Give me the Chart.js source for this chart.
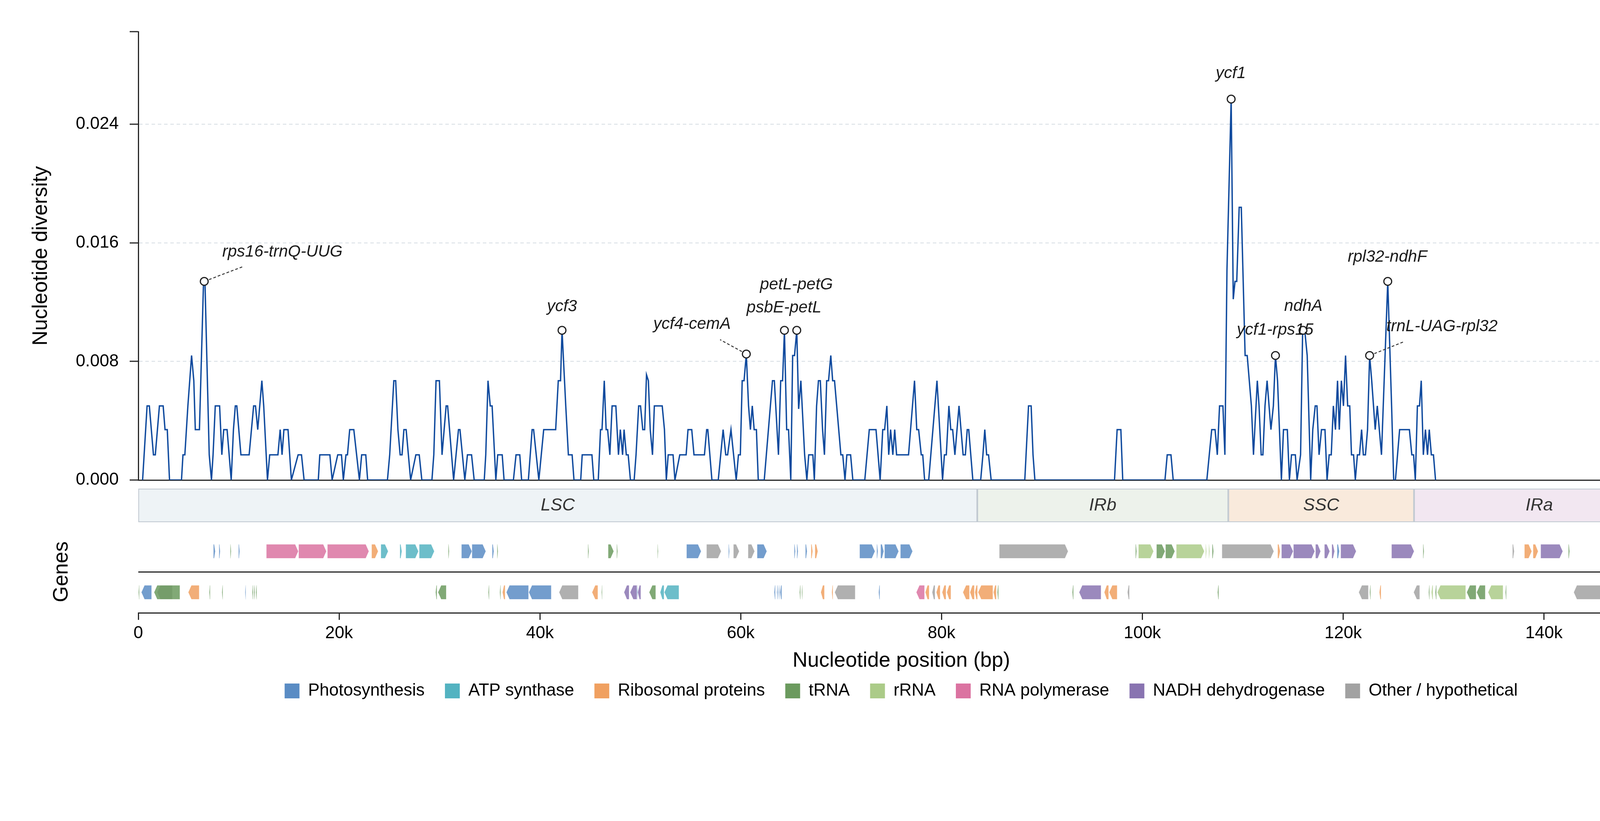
<!DOCTYPE html>
<html>
<head>
<meta charset="utf-8">
<title>Nucleotide diversity</title>
<script src="https://cdn.jsdelivr.net/npm/chart.js@4.4.1/dist/chart.umd.min.js"></script>
<style>
  html, body { margin: 0; padding: 0; overflow: hidden; background: #fff; }
  body { position: relative; width: 4322px; height: 2102px; }
  canvas { position: absolute; left: 0; }
</style>
</head>
<body>
<canvas id="band" width="4322" height="110" style="top:1240px"></canvas>
<canvas id="genes" width="4322" height="803" style="top:1299px"></canvas>
<canvas id="diversity" width="4322" height="1285" style="top:0"></canvas>
<script>
// sliding window nucleotide diversity, [position bp, pi]
const piLSC = [
  [430,0],[877,.005],[1101,.005],[1510,.0017],[1696,.0017],[2106,.005],[2478,.005],[2664,.0034],[2888,.0034],[3111,0],
  [4303,0],[4451,.0017],[4638,.0017],[4940,.005],[5308,.0084],[5531,.0067],[5680,.0034],[6090,.0034],[6500,.0134],[6640,.0134],
  [7066,.0017],[7289,0],[7448,.0017],[7668,.005],[8100,.005],[8323,.0017],[8510,.0034],[8845,.0034],[9254,0],[9478,.0034],
  [9664,.005],[9813,.005],[10222,.0017],[11041,.0017],[11488,.005],[11674,.005],[11898,.0034],[12308,.0067],[12493,.005],[12866,0],
  [13089,.0017],[13908,.0017],[14132,.0034],[14318,.0017],[14504,.0034],[14914,.0034],[15248,0],[15919,.0017],[16254,.0017],[16514,0],
  [17929,0],[18078,.0017],[19083,.0017],[19306,0],[19865,.0017],[20237,.0017],[20423,0],[20684,.0017],[20833,.0017],[21056,.0034],
  [21466,.0034],[22024,0],[22248,.0017],[22657,.0017],[22843,0],[24816,0],[25040,.0017],[25450,.0067],[25636,.0067],[25859,.0034],
  [26082,.0017],[26269,.0017],[26455,.0034],[26678,.0034],[27125,0],[27646,.0017],[27981,.0017],[28241,0],[29246,0],[29433,.0017],
  [29656,.0067],[29991,.0067],[30252,.0017],[30661,.005],[30810,.005],[31406,0],[31890,.0034],[32039,.0034],[32523,0],[32783,.0017],
  [33193,.0017],[33453,0],[34458,0],[34607,.0017],[34831,.0067],[35054,.005],[35240,.005],[35612,0],[35799,.0017],[36245,.0017],
  [36431,0],[37362,0],[37623,.0017],[37995,.0017],[38181,0],[38852,0],[39224,.0034],[39373,.0034],[39894,0],[40378,.0034],
  [41570,.0034],[41830,.0067],[42054,.0067],[42203,.0101],[42575,.005],[42836,.0017],[43208,.0017],[43394,0],[44064,0],[44213,.0017],
  [45181,.0017],[45367,0],[45814,0],[46037,.0034],[46186,.0034],[46410,.0067],[46596,.0034],[46745,.0034],[46968,.0017],[47191,.005],
  [47564,.005],[47824,.0017],[48010,.0034],[48234,.0017],[48383,.0034],[48606,.0017],[48792,.0017],[49016,0],[49388,0],[49574,.0017],
  [49835,.005],[50021,.005],[50244,.0034],[50431,.0034],[50617,.0071],[50803,.0067],[50989,.0034],[51213,.0017],[51399,.005],[52181,.005],
  [52404,.0034],[52590,0],[52777,.0017],[53261,.0017],[53447,0],[53931,.0017],[54564,.0017],[54750,.0034],[55122,.0034],[55346,.0017],
  [56387,.0017],[56610,.0034],[56722,.0034],[57131,0],[57764,0],[58248,.0034],[58509,.0017],[58695,.0017],[59030,.0034],[59551,0],
  [59775,.0017],[59961,.0017],[60147,.0067],[60333,.0067],[60557,.0085],[60780,.005],[60966,.0034],[61152,.005],[61338,.0034],[61562,.0034],
  [61748,0],[62344,0],[63163,.0067],[63349,.0067],[63758,.0017],[63982,.0067],[64168,.0067],[64354,.0101],[64577,.0034],[64764,.0034],
  [64987,0],[65173,.0084],[65359,.0084],[65583,.0101],[65769,.0048],[65992,.0067],[66365,.0017],[66588,0],[66774,.0017],[67184,.0017],
  [67333,0],[67556,.005],[67742,.0067],[67928,.0067],[68152,.0034],[68338,.0017],[68561,.0067],[68747,.0067],[68971,.0084],[69157,.0067],
  [69343,.0067],[69976,.0017],[70162,.0017],[70385,0],[70571,.0017],[70944,.0017],[71167,0],[72358,0],[72805,.0034],[73475,.0034],
  [73885,0],[74145,.0034],[74332,.0034],[74555,.005],[74741,.0017],[74927,.0034],[75151,.0017],[75337,.0034],[75523,.0017],[76714,.0017],
  [77310,.0067],[77533,.0034],[77719,.0034],[77980,.0017],[78129,.0017],[78315,0],[78725,0],[79544,.0067],[80102,0],[80288,.0017],
  [80475,.0017],[80735,.005],[80921,.0034],[81108,.0034],[81331,.0017],[81741,.005],[82150,.0017],[82373,.0017],[82559,.0034],[82708,.0034],
  [83118,0]
];
const piIRb = [
  [83900,0],[84123,.0017],[84309,.0034],[84495,.0017],[84682,.0017],[84942,0],[88293,0],[88665,.005],[88926,.005],[89112,.0017],
  [89298,0],[97228,0],[97489,.0034],[97861,.0034],[98047,0],[102254,0],[102478,.0017],[102850,.0017],[103073,0],[106424,0],
  [106908,.0034],[107243,.0034],[107466,.0017],[107690,.005],[108025,.005],[108221,.0017],[108429,.0142]
];
const piSSC = [
  [108846,.0257],[109055,.0122],[109228,.0134],[109402,.0134],[109645,.0184],[109854,.0184],[110236,.0084],[110444,.0084],[110861,.005],[111069,.0017],
  [111451,.0067],[111625,.005],[111834,.0017],[112007,.0017],[112216,.005],[112424,.0067],[112806,.0034],[113049,.005],[113258,.0084],[113466,.0067],
  [113849,0],[114057,.0034],[114439,.0034],[114647,0],[114855,.0017],[115238,.0017],[115411,0],[115759,.0017],[115967,.0101],[116175,.0101],
  [116419,.0084],[116766,0],[116974,.0034],[117218,.005],[117391,.005],[117600,.0017],[117843,.0034],[118190,.0034],[118398,0],[118607,.0017],
  [118815,.0017],[119024,.005],[119232,.0034],[119440,.0067],[119614,.0034],[119823,.0067],[120031,.005],[120239,.0084],[120448,.005],[120656,.005],
  [120830,.0017],[121038,.0017],[121212,0],[121420,.0017],[121629,.0017],[121837,.0034],[122011,.0017],[122219,.0017],[122428,.0034],[122636,.0084],
  [122845,.0067],[123192,.0034],[123400,.005],[123817,.0017],[124442,.0134],[124825,.005],[125033,0],[125207,0],[125624,.0034],[126596,.0034],
  [126839,.0017],[127013,.0017]
];
const piIRa = [
  [127187,0],[127395,.005],[127603,.005],[127777,.0067],[127985,.0017],[128194,.0034],[128402,.0017],[128576,.0034],[128784,.0017],[128993,.0017],
  [129201,0]
];

// highlighted windows
const peakNames = ['rps16-trnQ-UUG','ycf3','ycf4-cemA','psbE-petL','petL-petG','ycf1','ycf1-rps15','ndhA','trnL-UAG-rpl32','rpl32-ndhF'];
const peakPos   = [6570, 42203, 60557, 64354, 65583, 108846, 113258, 116000, 122636, 124442];
const peakPi    = [.0134, .0101, .0085, .0101, .0101, .0257, .0084, .0101, .0084, .0134];

const yTicks = [0, 0.008, 0.016, 0.024];
const yMax = 0.03025;
const xTicks = [0, 20000, 40000, 60000, 80000, 100000, 120000, 140000, 152000];
const genomeLength = 152000;

const regionNames = ['LSC', 'IRb', 'SSC', 'IRa'];
const regionStart = [0, 83560, 108560, 127060];
const regionEnd   = [83560, 108560, 127060, 152000];

const categories = ['Photosynthesis','ATP synthase','Ribosomal proteins','tRNA','rRNA','RNA polymerase','NADH dehydrogenase','Other / hypothetical'];
const catKeys = ['P','A','R','T','RR','Pol','N','O'];

// [start, end, category]
const genesPlus = [
  [7479,7673,'P'],[8038,8160,'P'],[9157,9254,'T'],[9983,10105,'P'],
  [12755,15941,'Pol'],[15965,18737,'Pol'],[18834,22968,'Pol'],
  [23235,23892,'R'],[24159,24888,'A'],[26056,26250,'A'],[26639,27904,'A'],[27977,29484,'A'],
  [30870,30968,'T'],[32183,33229,'P'],[33229,34615,'P'],[35247,35417,'P'],[35733,35830,'T'],
  [44778,44875,'T'],[46796,47355,'T'],[47647,47745,'T'],[51708,51781,'T'],
  [54601,56060,'P'],[56595,58054,'O'],[58784,58881,'P'],[59270,59854,'O'],[60729,61385,'O'],[61629,62601,'P'],
  [65325,65446,'P'],[65592,65714,'P'],[66443,66613,'P'],[67002,67172,'R'],[67391,67683,'R'],
  [71841,73373,'P'],[73543,73665,'P'],[73932,74248,'P'],[74321,75732,'P'],[75903,77118,'P'],
  [85750,92607,'O'],
  [99318,99440,'T'],[99610,101118,'RR'],[101410,102261,'T'],[102310,103234,'T'],[103379,106175,'RR'],[106296,106394,'RR'],[106613,106710,'RR'],[106953,107099,'T'],
  [107926,113097,'O'],[113477,113730,'R'],[113857,115021,'N'],[115046,117172,'N'],[117248,117754,'N'],[118134,118665,'N'],[118868,119146,'N'],[119399,119627,'P'],[119754,121298,'N'],
  [124816,127068,'N'],[127954,128055,'T'],
  [136863,137040,'O'],[138053,138787,'R'],[138913,139419,'R'],[139672,141874,'N'],[142431,142558,'T'],
  [149898,149999,'T'],[150100,150379,'R'],[150429,151948,'R']
];
const genesMinus = [
  [0,112,'T'],[306,1327,'P'],[1570,4148,'T'],[1887,3394,'O'],[4974,6069,'R'],[7066,7163,'T'],[8330,8427,'T'],[10640,10713,'P'],
  [11345,11442,'T'],[11515,11613,'T'],[11710,11807,'T'],
  [29606,29751,'T'],[29849,30675,'T'],[34858,34955,'T'],[36001,36098,'T'],[36268,36535,'R'],[36657,38870,'P'],[38894,41131,'P'],
  [41909,43830,'O'],[45192,45775,'R'],[46140,46213,'T'],[48377,48888,'N'],[48985,49666,'N'],[49666,49739,'P'],[49739,50055,'N'],
  [50881,51538,'T'],[51976,52365,'A'],[52389,53848,'A'],
  [63331,63453,'P'],[63598,63695,'P'],[63768,63865,'P'],[63914,64085,'P'],[65859,65956,'T'],[66079,66152,'T'],
  [67975,68340,'R'],[69069,69190,'R'],[69361,71403,'O'],[73737,73859,'P'],
  [77483,78310,'Pol'],[78383,78772,'R'],[79064,79355,'O'],[79477,79866,'R'],[80060,80449,'R'],[80522,80936,'R'],
  [82127,82784,'R'],[82832,83270,'R'],[83319,83586,'R'],[83635,85118,'R'],[85166,85458,'R'],[85555,85677,'T'],
  [93020,93142,'T'],[93701,95889,'N'],[96206,96644,'R'],[96693,97495,'R'],[98516,98710,'O'],[107488,107610,'T'],
  [121551,122513,'O'],[122639,122740,'T'],[123601,123778,'R'],[127018,127625,'O'],[128511,128612,'T'],[128790,128941,'RR'],
  [129169,129296,'T'],[129372,132206,'RR'],[132307,133244,'T'],[133295,134155,'T'],[134434,135927,'RR'],[136155,136256,'T'],
  [142963,149797,'O']
];

// ---- styles ----
const FONT = '"Liberation Sans", Arial, Helvetica, sans-serif';
const INK = '#262626';
const catColors = { P: '#5a8cc4', A: '#53b3c1', R: '#f0a060', T: '#6b9a5e', RR: '#abcb88', Pol: '#db73a1', N: '#8974b1', O: '#a2a2a2' };
const regionFill = ['#eef3f6', '#edf2eb', '#f9eadc', '#f2e7f1'];

// where each label text sits (data units) and optional leader end
const labelAnchors = {
  'rps16-trnQ-UUG': { x: 8364, y: 0.01539, align: 'left', lead: [10349, 0.01438] },
  'ycf3': { x: 42200, y: 0.01168, align: 'center' },
  'ycf4-cemA': { x: 55150, y: 0.0105, align: 'center', lead: [57947, 0.00947] },
  'psbE-petL': { x: 64310, y: 0.01161, align: 'center' },
  'petL-petG': { x: 65550, y: 0.01318, align: 'center' },
  'ycf1': { x: 108811, y: 0.02742, align: 'center' },
  'ycf1-rps15': { x: 113223, y: 0.01011, align: 'center' },
  'ndhA': { x: 116036, y: 0.01172, align: 'center' },
  'trnL-UAG-rpl32': { x: 124303, y: 0.01035, align: 'left', lead: [126075, 0.00934] },
  'rpl32-ndhF': { x: 124408, y: 0.01504, align: 'center' }
};

Chart.defaults.font.family = FONT;
Chart.defaults.color = '#000';
Chart.defaults.animation = false;
Chart.defaults.devicePixelRatio = 1;

const peakLabels = {
  id: 'peakLabels',
  afterDatasetsDraw(chart) {
    const ctx = chart.ctx;
    const xs = chart.scales.x, ys = chart.scales.y;
    ctx.save();
    ctx.fillStyle = '#1a1a1a';
    ctx.font = 'italic 42px ' + FONT;
    ctx.textBaseline = 'middle';
    peakNames.forEach((name, i) => {
      const a = labelAnchors[name];
      if (a.lead) {
        const px = xs.getPixelForValue(peakPos[i]), py = ys.getPixelForValue(peakPi[i]);
        const qx = xs.getPixelForValue(a.lead[0]), qy = ys.getPixelForValue(a.lead[1]);
        const d = Math.hypot(qx - px, qy - py);
        ctx.save();
        ctx.strokeStyle = '#333';
        ctx.lineWidth = 2.4;
        ctx.setLineDash([7, 5]);
        ctx.beginPath();
        ctx.moveTo(px + (qx - px) * 13 / d, py + (qy - py) * 13 / d);
        ctx.lineTo(qx, qy);
        ctx.stroke();
        ctx.restore();
      }
      ctx.textAlign = a.align;
      ctx.fillText(name, xs.getPixelForValue(a.x), ys.getPixelForValue(a.y));
    });
    ctx.restore();
  }
};

const piPoints = [...piLSC, ...piIRb, ...piSSC, ...piIRa].map(([x, y]) => ({ x, y }));

new Chart(document.getElementById('diversity'), {
  type: 'line',
  data: {
    datasets: [{
      data: peakPos.map((x, i) => ({ x, y: peakPi[i] })),
      showLine: false,
      pointRadius: 10,
      pointBackgroundColor: '#fff',
      pointBorderColor: '#222',
      pointBorderWidth: 3
    }, {
      data: piPoints,
      borderColor: '#0f4a9e',
      borderWidth: 3.5,
      pointRadius: 0,
      tension: 0,
      fill: false
    }]
  },
  options: {
    responsive: false,
    events: [],
    layout: { padding: { left: 0, right: 61, top: 81, bottom: 0 } },
    plugins: { legend: { display: false }, tooltip: { enabled: false } },
    scales: {
      x: {
        type: 'linear', min: 0, max: genomeLength, z: 1,
        ticks: { display: false },
        grid: { display: false },
        border: { display: true, color: INK, width: 3 },
        afterFit(s) { s.height = 56; }
      },
      y: {
        min: 0, max: yMax,
        afterBuildTicks(s) { s.ticks = [...yTicks, yMax].map(v => ({ value: v })); },
        afterFit(s) { s.width = 354; },
        ticks: {
          font: { size: 44 }, color: '#000', padding: 28,
          callback: v => yTicks.includes(v) ? v.toFixed(3) : ''
        },
        grid: {
          color: c => (c.tick && c.tick.value > 0 && c.tick.value < yMax) ? '#d6dde3' : 'rgba(0,0,0,0)',
          lineWidth: 2,
          tickColor: INK, tickWidth: 3, tickLength: 22
        },
        border: { display: true, color: INK, width: 3, dash: [9, 7] },
        title: { display: true, text: 'Nucleotide diversity', font: { size: 53 }, color: '#000', padding: { top: 74, bottom: 0 } }
      }
    }
  },
  plugins: [peakLabels]
});

// region band
const regionLabels = {
  id: 'regionLabels',
  afterDatasetsDraw(chart) {
    const ctx = chart.ctx;
    ctx.save();
    ctx.fillStyle = '#333';
    ctx.font = 'italic 45px ' + FONT;
    ctx.textAlign = 'center';
    ctx.textBaseline = 'middle';
    chart.getDatasetMeta(0).data.forEach((bar, i) => {
      ctx.fillText(regionNames[i], (bar.x + bar.base) / 2, bar.y);
    });
    ctx.restore();
  }
};

new Chart(document.getElementById('band'), {
  type: 'bar',
  data: {
    labels: ['region'],
    datasets: [{
      data: regionNames.map((n, i) => ({ x: [regionStart[i], regionEnd[i]], y: 'region' })),
      backgroundColor: regionFill,
      borderColor: '#c2cad2',
      borderWidth: 2.5,
      borderSkipped: false,
      barPercentage: 1,
      categoryPercentage: 1,
      grouped: false
    }]
  },
  options: {
    indexAxis: 'y',
    responsive: false,
    events: [],
    layout: { padding: { left: 354, right: 61, top: 11, bottom: 13 } },
    plugins: { legend: { display: false }, tooltip: { enabled: false } },
    scales: {
      x: { type: 'linear', min: 0, max: genomeLength, display: false },
      y: { display: false }
    }
  },
  plugins: [regionLabels]
});

// genes
const geneArrows = {
  id: 'geneArrows',
  beforeDatasetDraw(chart, args) {
    const ds = chart.data.datasets[args.index];
    const ctx = chart.ctx;
    ctx.save();
    ctx.globalAlpha = 0.85;
    ctx.fillStyle = ds.backgroundColor;
    ctx.strokeStyle = 'rgba(255,255,255,0.8)';
    ctx.lineWidth = 1;
    args.meta.data.forEach((bar, i) => {
      const a = Math.min(bar.x, bar.base), b = Math.max(bar.x, bar.base);
      const w = Math.max(b - a, 2);
      const head = Math.min(8, w * 0.55);
      const top = bar.y - bar.height / 2, bot = bar.y + bar.height / 2;
      ctx.beginPath();
      if (ds.data[i].y === '(+)') {
        ctx.moveTo(a, top); ctx.lineTo(a + w - head, top); ctx.lineTo(a + w, bar.y);
        ctx.lineTo(a + w - head, bot); ctx.lineTo(a, bot);
      } else {
        ctx.moveTo(b, top); ctx.lineTo(b - w + head, top); ctx.lineTo(b - w, bar.y);
        ctx.lineTo(b - w + head, bot); ctx.lineTo(b, bot);
      }
      ctx.closePath();
      ctx.fill();
      ctx.stroke();
    });
    ctx.restore();
    return false;
  }
};

const geneSets = catKeys.map((k, i) => ({
  label: categories[i],
  backgroundColor: catColors[k],
  borderWidth: 0,
  grouped: false,
  barThickness: 36,
  data: [
    ...genesPlus.filter(g => g[2] === k).map(g => ({ x: [g[0], g[1]], y: '(+)' })),
    ...genesMinus.filter(g => g[2] === k).map(g => ({ x: [g[0], g[1]], y: '(-)' }))
  ]
}));

// legend is centred under the plot area, so the y axis box is squeezed
// into the left padding and its texts are pushed out with padding
new Chart(document.getElementById('genes'), {
  type: 'bar',
  data: { labels: ['(+)', '(-)'], datasets: geneSets },
  options: {
    indexAxis: 'y',
    responsive: false,
    events: [],
    layout: { padding: { left: 353, right: 61, top: 60, bottom: 301 } },
    plugins: {
      tooltip: { enabled: false },
      legend: {
        position: 'bottom',
        labels: { boxWidth: 38, boxHeight: 38, padding: 52, color: '#000', font: { size: 44 } }
      }
    },
    scales: {
      x: {
        type: 'linear', min: 0, max: genomeLength,
        afterBuildTicks(s) { s.ticks = xTicks.map(v => ({ value: v })); },
        afterFit(s) { s.height = 126; },
        ticks: {
          font: { size: 44 }, color: '#000', padding: 8, maxRotation: 0, autoSkip: false,
          callback: v => v === 0 ? '0' : (v / 1000) + 'k'
        },
        grid: { drawOnChartArea: false, drawTicks: true, tickLength: 18, tickWidth: 3, tickColor: INK, color: INK },
        border: { display: true, color: INK, width: 3 },
        title: { display: true, text: 'Nucleotide position (bp)', font: { size: 53 }, color: '#000', padding: { top: 0, bottom: -29 } }
      },
      y: {
        afterFit(s) { s.width = 1; },
        ticks: { font: { size: 44 }, color: '#000', padding: 31 },
        grid: {
          drawTicks: false,
          lineWidth: 3,
          color: c => c.index === 1 ? INK : 'rgba(0,0,0,0)'
        },
        border: { display: false },
        title: { display: true, text: 'Genes', font: { size: 53 }, color: '#000', padding: { top: -226, bottom: 0 } }
      }
    }
  },
  plugins: [geneArrows]
});
</script>
</body>
</html>
